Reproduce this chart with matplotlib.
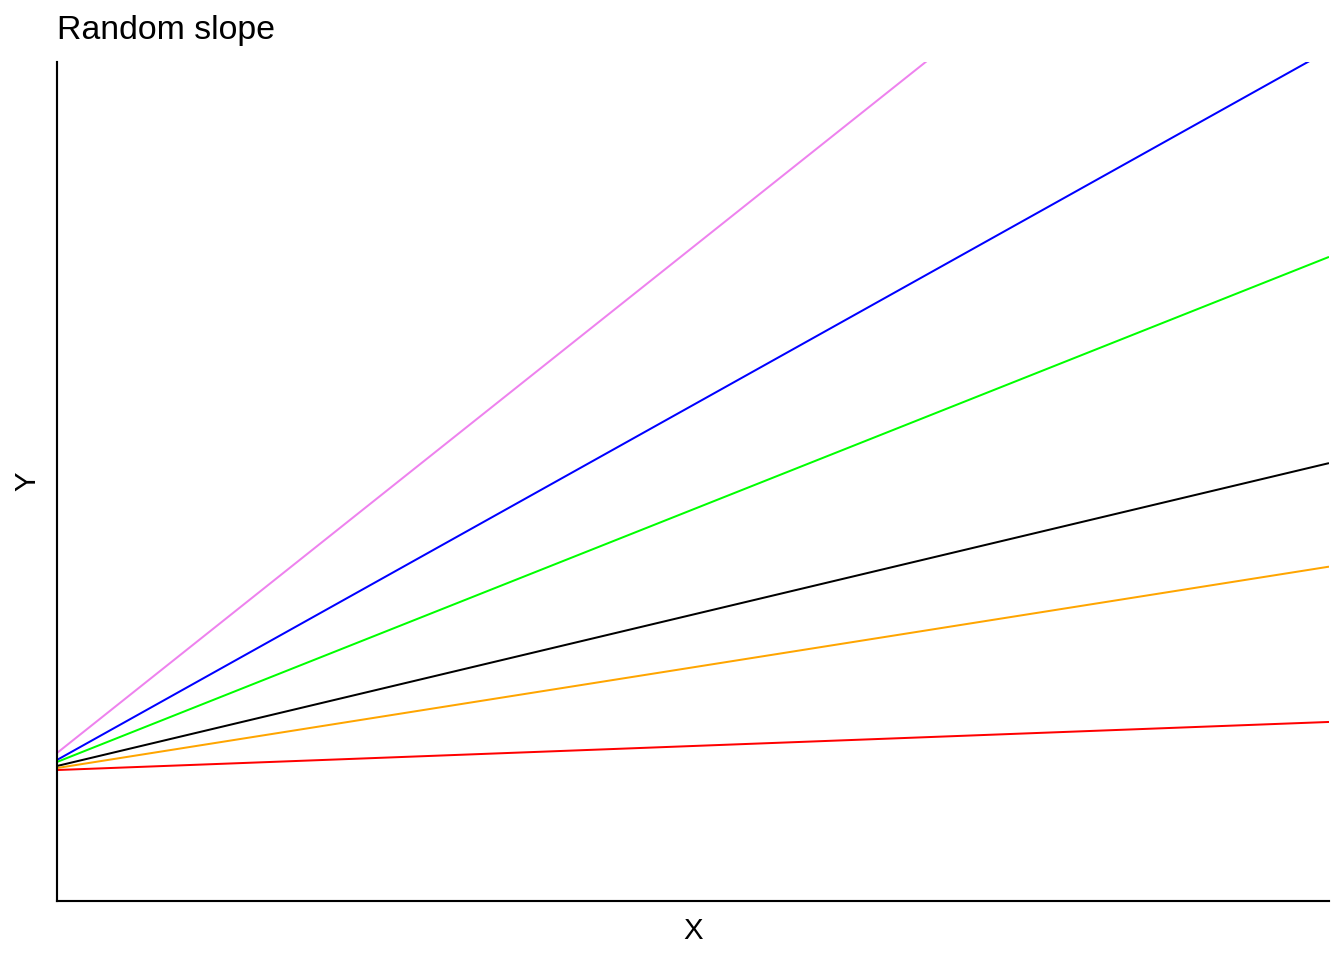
import matplotlib
matplotlib.use("Agg")
import matplotlib.pyplot as plt
import numpy as np

colors = ["violet", "blue", "#00FF00", "black", "orange", "red"]
intercepts = [0.1764, 0.1681, 0.1657, 0.1609, 0.1585, 0.1561]
slopes = [1.206, 0.846, 0.602, 0.361, 0.240, 0.0573]

plt.rcParams['font.family'] = ['Liberation Sans', 'DejaVu Sans']
fig = plt.figure(figsize=(7, 5), dpi=192)
W, H = 1344, 960
ax = fig.add_axes([57 / W, (H - 901) / H, 1272 / W, 839 / H])
xs = np.array([0.0, 1.0])
for c, a, b in zip(colors, intercepts, slopes):
    ax.plot(xs, a + b * xs, color=c, lw=0.75, solid_capstyle='butt')
ax.set_xlim(0, 1)
ax.set_ylim(0, 1)
ax.set_xticks([])
ax.set_yticks([])
for s in ['top', 'right']:
    ax.spines[s].set_visible(False)
for s in ['left', 'bottom']:
    ax.spines[s].set_linewidth(0.8)
    ax.spines[s].set_color('black')
ax.set_xlabel("X", fontsize=11, labelpad=6)
ax.set_ylabel("Y", fontsize=11, labelpad=6)
ax.set_title("Random slope", fontsize=12.7, loc='left', pad=8.5)
fig.savefig("out.png", dpi=192)
